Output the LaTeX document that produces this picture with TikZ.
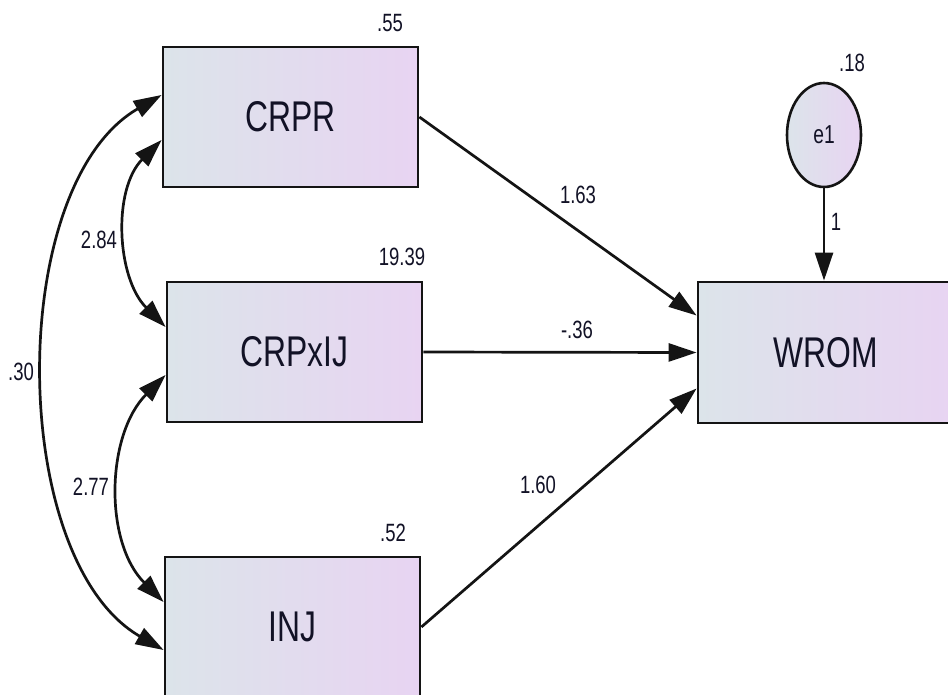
\documentclass[tikz,border=0pt]{standalone}
\usepackage{fontspec}
\setmainfont{Liberation Sans}[FakeStretch=0.74]
\usetikzlibrary{arrows.meta,shapes.geometric}
\definecolor{boxleft}{RGB}{220,228,234}
\definecolor{boxright}{RGB}{232,212,242}
\definecolor{txt}{RGB}{18,18,38}
\definecolor{edge}{RGB}{20,20,20}
\tikzset{
  varbox/.style={draw=edge, line width=2.8pt, rectangle, minimum width=255pt, minimum height=140pt,
    left color=boxleft, right color=boxright, text=txt, font=\fontsize{43}{50}\selectfont, inner sep=0pt},
  errnode/.style={draw=edge, line width=2.6pt, ellipse, minimum width=74pt, minimum height=104pt,
    left color=boxleft, right color=boxright, text=txt, font=\fontsize{26}{30}\selectfont, inner sep=0pt},
  lbl/.style={text=txt, font=\fontsize{25}{30}\selectfont, inner sep=0pt},
  path/.style={draw=edge, line width=2.7pt, -{Triangle[length=28pt,width=18pt]}},
  cov/.style={draw=edge, line width=2.7pt, {Triangle[length=28pt,width=18pt]}-{Triangle[length=28pt,width=18pt]}}
}
\begin{document}
\begin{tikzpicture}[x=1pt,y=-1pt]
\useasboundingbox (0,0) rectangle (948,694);
\clip (0,0) rectangle (948,694);
\fill[white] (0,0) rectangle (948,694);
% variables
\node[varbox] (crpr) at (290.5,117) {CRPR};
\node[varbox] (crpx) at (294.5,352) {CRPxIJ};
\node[varbox] (inj) at (292.5,627) {INJ};
\node[varbox, minimum width=256pt, minimum height=141pt] (wrom) at (826,352.5) {WROM};
\node[errnode] (e1) at (824,135) {e1};
% paths
\draw[path] (crpr.east) -- ([yshift=37pt]wrom.west);
\draw[path] (crpx.east) -- (wrom.west);
\draw[path] (inj.east) -- ([yshift=-36pt]wrom.west);
\draw[path] (e1.south) -- (e1.south |- wrom.north);
% covariances
\draw[cov] ([yshift=-23pt]crpr.west) to[out=225,in=135,looseness=0.95] ([yshift=25pt]crpx.west);
\draw[cov] ([yshift=-23pt]crpx.west) to[out=225,in=135,looseness=0.95] ([yshift=25pt]inj.west);
\draw[cov] ([yshift=22pt]crpr.west) to[out=210,in=150,looseness=0.83] ([yshift=-23pt]inj.west);
% labels
\node[lbl] (v55) at (390,23) {.55};
\node[lbl] (v1939) at (402,257) {19.39};
\node[lbl] (v52) at (393,533) {.52};
\node[lbl] (v18) at (852,63) {.18};
\node[lbl] (p163) at (578,195) {1.63};
\node[lbl] (p36) at (577,330) {-.36};
\node[lbl] (p160) at (538,485) {1.60};
\node[lbl] (p1) at (836,222) {1};
\node[lbl] (c284) at (99,240) {2.84};
\node[lbl] (c277) at (91,487) {2.77};
\node[lbl] (c30) at (21,372) {.30};
\end{tikzpicture}
\end{document}
